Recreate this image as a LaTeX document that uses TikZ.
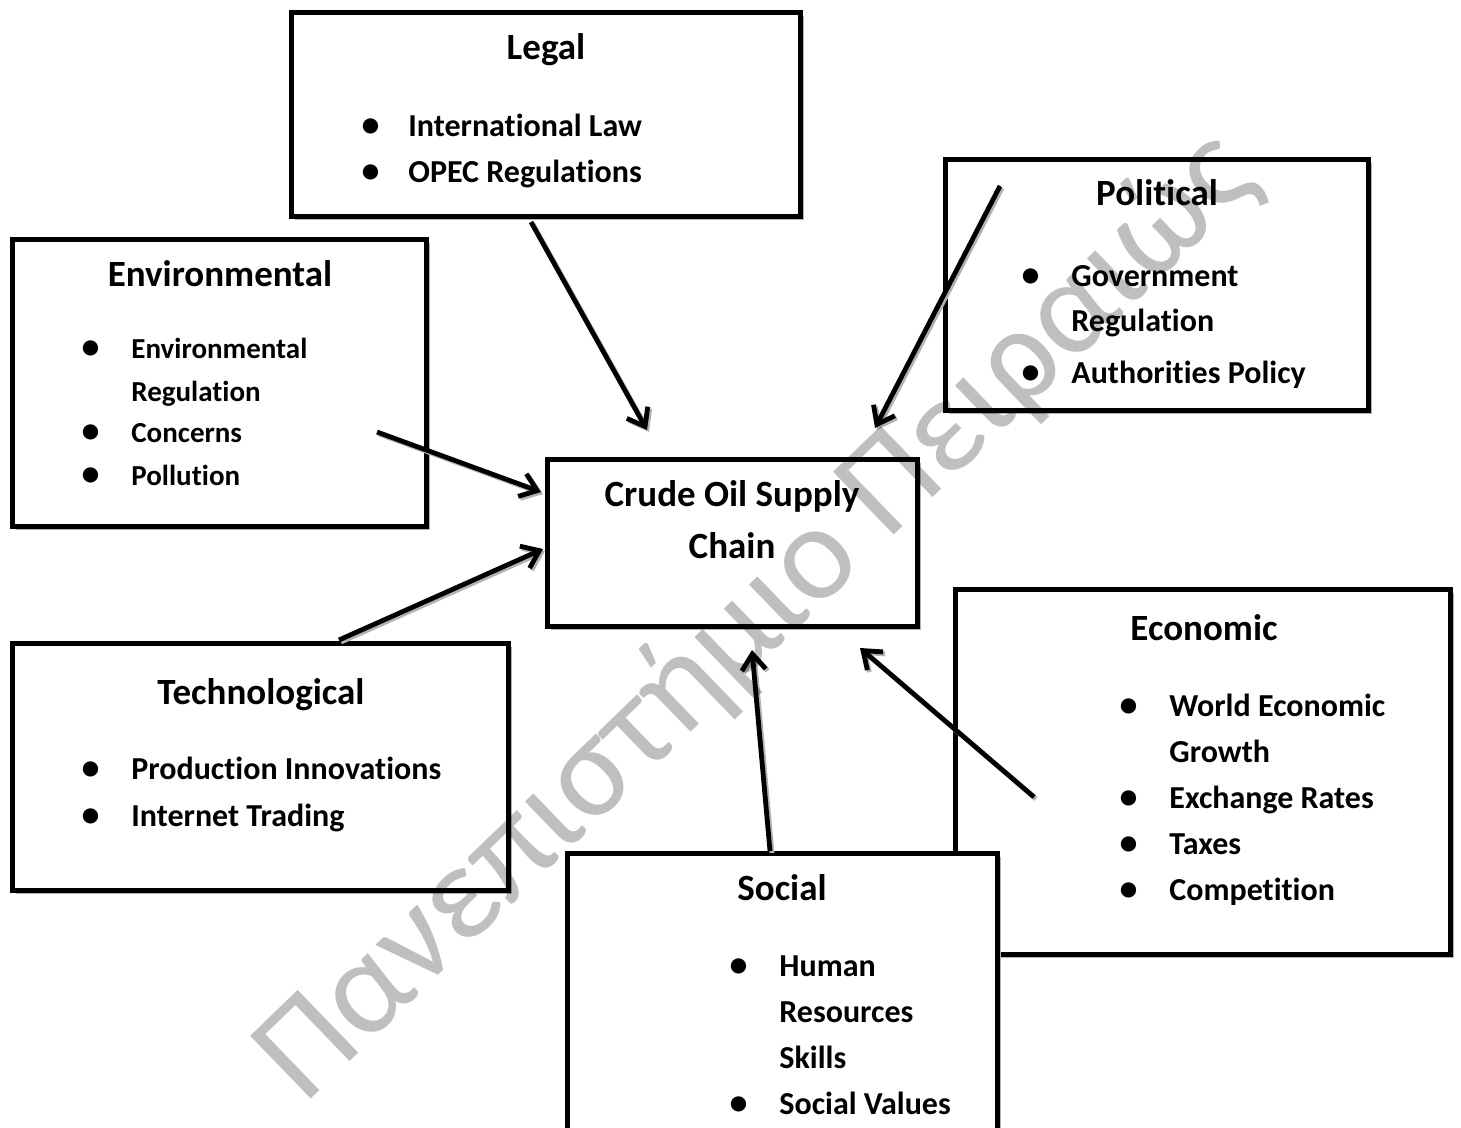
\documentclass[tikz,border=0pt]{standalone}
\usepackage{fontspec}
\setmainfont{Carlito}[Ligatures={TeX,NoCommon}]
\usetikzlibrary{positioning,arrows.meta,shadows}

\newcommand{\bul}{{\fontsize{18}{18}\selectfont\textbullet}}

\begin{document}
\begin{tikzpicture}[x=0.5pt,y=-0.5pt,
box/.style={draw,line width=2.4pt,fill=white,rectangle,inner sep=0pt,
  drop shadow={shadow xshift=1.6pt,shadow yshift=-1.6pt,fill=black!30,opacity=1}},
title/.style={font=\bfseries\fontsize{18.5}{26pt}\selectfont,inner sep=0pt},
itemlist/.style={anchor=base west,inner sep=0pt,font=\bfseries\fontsize{16}{#1}\selectfont},
arr/.style={line width=2.4pt,-{Straight Barb[length=8pt,width=12pt]},
  preaction={draw=black!30,line width=2.4pt,-{Straight Barb[length=8pt,width=12pt]},
    transform canvas={shift={(1pt,-1pt)}}}},
wmark/.style={font=\fontsize{68}{68}\selectfont,text=black,text opacity=0.25,inner sep=0pt}]
\useasboundingbox (0,0) rectangle (1461,1128);
\clip (0,0) rectangle (1461,1128);

% boxes
\node[box,minimum width=254.5pt,minimum height=102pt] (legal) at (546,114.5) {};
\node[box,minimum width=211.5pt,minimum height=125.5pt] (political) at (1157,285) {};
\node[box,minimum width=207pt,minimum height=143.5pt] (environ) at (219.5,383) {};
\node[box,minimum width=185pt,minimum height=83.5pt] (crude) at (732.5,543) {};
\node[box,minimum width=248pt,minimum height=123.5pt] (techno) at (260.5,767) {};
\node[box,minimum width=247.5pt,minimum height=182.5pt] (econ) at (1203,772) {};
\node[box,minimum width=215pt,minimum height=143.5pt] (social) at (782.5,997) {};

% titles
\node[title] (legalT) at (546,50) {Legal};
\node[title] (politicalT) at (1157,193) {Political};
\node[title] (environT) at (220,274) {Environmental};
\node[title,align=center] (crudeT) at (732,520) {Crude Oil Supply\\Chain};
\node[title] (technoT) at (261,695) {Technological};
\node[title] (econT) at (1204,628) {Economic};
\node[title] (socialT) at (782,888) {Social};

% bullet lists
\node[itemlist=23pt] (legalL) at (361.3,136.5) {\begin{tabular}[t]{@{}p{23.35pt}@{}l@{}}
  \bul & International Law\\ \bul & OPEC Regulations\end{tabular}};
\node[itemlist=22.5pt] (politicalL) at (1021.3,286.5) {\begin{tabular}[t]{@{}p{24.85pt}@{}l@{}}
  \bul & Government\\ & Regulation\\[3.5pt] \bul & Authorities Policy\end{tabular}};
\node[itemlist=21pt,font=\bfseries\fontsize{14.5}{21pt}\selectfont] (environL) at (81.3,359) {\begin{tabular}[t]{@{}p{24.85pt}@{}l@{}}
  \bul & Environmental\\ & Regulation\\ \bul & Concerns\\ \bul & Pollution\end{tabular}};
\node[itemlist=23.5pt] (technoL) at (81.3,779.5) {\begin{tabular}[t]{@{}p{24.85pt}@{}l@{}}
  \bul & Production Innovations\\ \bul & Internet Trading\end{tabular}};
\node[itemlist=23pt] (econL) at (1119.3,716) {\begin{tabular}[t]{@{}p{24.85pt}@{}l@{}}
  \bul & World Economic\\ & Growth\\ \bul & Exchange Rates\\ \bul & Taxes\\ \bul & Competition\end{tabular}};
\node[itemlist=23pt] (socialL) at (729.3,976) {\begin{tabular}[t]{@{}p{24.85pt}@{}l@{}}
  \bul & Human\\ & Resources\\ & Skills\\ \bul & Social Values\end{tabular}};

% arrows into the supply chain
\coordinate (legalA) at (531,222);    \coordinate (legalB) at (647,430);
\coordinate (politicalA) at (1000,186); \coordinate (politicalB) at (875,428);
\coordinate (environA) at (377,432);  \coordinate (environB) at (541,492);
\coordinate (technoA) at (339,640);   \coordinate (technoB) at (543,549);
\coordinate (socialA) at (770,851);   \coordinate (socialB) at (752,650);
\coordinate (econA) at (1034,797);    \coordinate (econB) at (860,648);
\draw[arr] (legalA) -- (legalB);
\draw[arr] (politicalA) -- (politicalB);
\draw[arr] (environA) -- (environB);
\draw[arr] (technoA) -- (technoB);
\draw[arr] (socialA) -- (socialB);
\draw[arr] (econA) -- (econB);

% watermark
\node[wmark,rotate=44] (stamp) at (757,617) {Πανεπιστήμιο Πειραιώς};
\end{tikzpicture}
\end{document}
